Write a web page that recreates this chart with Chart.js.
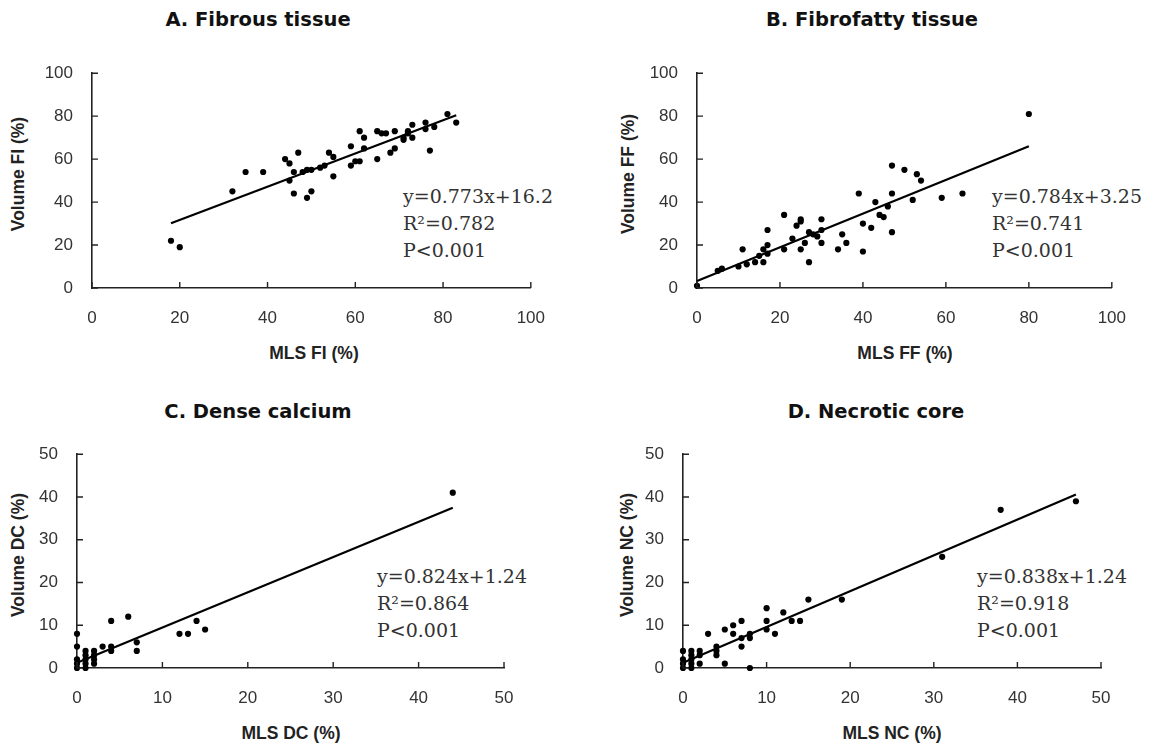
<!DOCTYPE html>
<html>
<head>
<meta charset="utf-8">
<script src="https://cdn.jsdelivr.net/npm/chart.js@4.4.1/dist/chart.umd.min.js"></script>
<style>
body { margin: 0; background: #fff; }
#wrap { position: relative; width: 1172px; height: 744px; overflow: hidden; background: #fff; }
canvas { position: absolute; }
.t { position: absolute; white-space: nowrap; transform: translate(-50%, -50%); }
.title { font: bold 19.5px "DejaVu Sans"; color: #111; }
.ax { font: bold 17.5px "Liberation Sans"; color: #222; }
.ay { transform: translate(-50%, -50%) rotate(-90deg); }
.eq { position: absolute; font: 19px "DejaVu Serif"; color: #333; line-height: 27px; white-space: nowrap; }
</style>
</head>
<body>
<div id="wrap">
  <div class="t title" style="left:258px;top:19px">A. Fibrous tissue</div>
  <div class="t title" style="left:872px;top:19px">B. Fibrofatty tissue</div>
  <div class="t title" style="left:258px;top:411px">C. Dense calcium</div>
  <div class="t title" style="left:876px;top:411px">D. Necrotic core</div>

  <div class="t ax" style="left:314px;top:353px">MLS FI (%)</div>
  <div class="t ax" style="left:905px;top:353px">MLS FF (%)</div>
  <div class="t ax" style="left:291px;top:733px">MLS DC (%)</div>
  <div class="t ax" style="left:892px;top:733px">MLS NC (%)</div>

  <div class="t ax ay" style="left:18px;top:174px">Volume FI (%)</div>
  <div class="t ax ay" style="left:628px;top:174px">Volume FF (%)</div>
  <div class="t ax ay" style="left:18px;top:555px">Volume DC (%)</div>
  <div class="t ax ay" style="left:627px;top:555px">Volume NC (%)</div>

  <div class="eq" style="left:403px;top:183px">y=0.773x+16.2<br>R²=0.782<br>P&lt;0.001</div>
  <div class="eq" style="left:992px;top:183px">y=0.784x+3.25<br>R²=0.741<br>P&lt;0.001</div>
  <div class="eq" style="left:377px;top:563px">y=0.824x+1.24<br>R²=0.864<br>P&lt;0.001</div>
  <div class="eq" style="left:977px;top:563px">y=0.838x+1.24<br>R²=0.918<br>P&lt;0.001</div>
</div>
<script>
// fibrous tissue (MLS vs volume)
var fiX = [18, 20, 32, 35, 39, 44, 45, 47, 46, 45, 46, 49, 50, 48, 49, 50, 52, 53, 54, 55, 55, 59, 59, 60, 61, 61, 62, 62, 65, 66, 67, 65, 68, 69, 69, 71, 71, 72, 72, 73, 73, 76, 76, 77, 78, 81, 83];
var fiY = [22, 19, 45, 54, 54, 60, 58, 63, 54, 50, 44, 42, 45, 54, 55, 55, 56, 57, 63, 61, 52, 66, 57, 59, 59, 73, 70, 65, 73, 72, 72, 60, 63, 65, 73, 69, 70, 73, 72, 70, 76, 77, 74, 64, 75, 81, 77];
var fiLineX = [18, 83];
var fiLineY = [30.1, 80.4];

// fibrofatty tissue
var ffX = [0, 5, 6, 10, 11, 12, 14, 15, 16, 16, 17, 17, 17, 21, 21, 23, 24, 25, 25, 25, 26, 27, 27, 28, 29, 30, 30, 30, 34, 35, 36, 39, 40, 40, 42, 43, 44, 45, 46, 47, 47, 47, 50, 52, 53, 54, 59, 64, 80];
var ffY = [1, 8, 9, 10, 18, 11, 12, 15, 12, 18, 27, 20, 16, 34, 18, 23, 29, 32, 31, 18, 21, 12, 26, 25, 24, 32, 27, 21, 18, 25, 21, 44, 30, 17, 28, 40, 34, 33, 38, 57, 44, 26, 55, 41, 53, 50, 42, 44, 81];
var ffLineX = [0, 80];
var ffLineY = [3.25, 66];

// dense calcium
var dcX = [0, 0, 0, 0, 0, 1, 1, 1, 1, 1, 2, 2, 2, 2, 3, 4, 4, 4, 6, 7, 7, 12, 13, 14, 15, 44];
var dcY = [0, 1, 2, 5, 8, 0, 1, 2, 3, 4, 1, 2, 3, 4, 5, 4, 5, 11, 12, 4, 6, 8, 8, 11, 9, 41];
var dcLineX = [0, 44];
var dcLineY = [1.24, 37.5];

// necrotic core
var ncX = [0, 0, 0, 0, 1, 1, 1, 1, 1, 2, 2, 2, 3, 4, 4, 4, 5, 5, 6, 6, 7, 7, 7, 8, 8, 8, 10, 10, 10, 11, 12, 13, 14, 15, 19, 31, 38, 47];
var ncY = [0, 1, 2, 4, 0, 1, 2, 3, 4, 1, 3, 4, 8, 3, 4, 5, 1, 9, 8, 10, 5, 7, 11, 0, 7, 8, 9, 11, 14, 8, 13, 11, 11, 16, 16, 26, 37, 39];
var ncLineX = [0, 47];
var ncLineY = [1.24, 40.6];

var ticks100 = [0, 20, 40, 60, 80, 100];
var ticks50 = [0, 10, 20, 30, 40, 50];

function toPoints(xs, ys) {
	return xs.map(function(x, i) { return {x: x, y: ys[i]}; });
}

// tick marks pointing into the plot, like the original
var innerTicks = {
	id: 'innerTicks',
	afterDraw: function(chart) {
		var ctx = chart.ctx;
		var a = chart.chartArea;
		var sx = chart.scales.x, sy = chart.scales.y;
		ctx.save();
		ctx.strokeStyle = '#222';
		ctx.lineWidth = 1.4;
		ctx.beginPath();
		sx.ticks.forEach(function(t) {
			var px = sx.getPixelForValue(t.value);
			ctx.moveTo(px, a.bottom);
			ctx.lineTo(px, a.bottom - 6);
		});
		sy.ticks.forEach(function(t) {
			var py = sy.getPixelForValue(t.value);
			ctx.moveTo(a.left, py);
			ctx.lineTo(a.left + 6, py);
		});
		ctx.stroke();
		ctx.restore();
	}
};

var padL = 75, padT = 15, padR = 30, padB = 55;

function ShowScatter(area, pts, line, max, tickList) {
	var c = document.createElement('canvas');
	var w = area[2] - area[0] + padL + padR;
	var h = area[3] - area[1] + padT + padB;
	c.width = w; c.height = h;
	c.style.left = (area[0] - padL) + 'px';
	c.style.top = (area[1] - padT) + 'px';
	c.style.width = w + 'px';
	c.style.height = h + 'px';
	document.getElementById('wrap').appendChild(c);

	var tickFont = {family: 'Liberation Sans', size: 17};
	var setTicks = function(scale) { scale.ticks = tickList.map(function(v) { return {value: v}; }); };

	new Chart(c, {
		type: 'scatter',
		data: {
			datasets: [
				{
					data: pts,
					pointRadius: 3.1,
					pointBackgroundColor: '#000',
					pointBorderWidth: 0,
					clip: false
				},
				{
					data: line,
					showLine: true,
					borderColor: '#000',
					borderWidth: 2.2,
					pointRadius: 0,
					fill: false,
					clip: false
				}
			]
		},
		options: {
			responsive: false,
			animation: false,
			events: [],
			layout: {autoPadding: false, padding: {left: 0, top: padT, right: padR, bottom: 0}},
			plugins: {legend: {display: false}, tooltip: {enabled: false}},
			scales: {
				x: {
					type: 'linear', min: 0, max: max,
					afterBuildTicks: setTicks,
					afterFit: function(s) { s.height = padB; },
					grid: {display: false, drawTicks: false},
					border: {display: true, color: '#222', width: 1.6},
					ticks: {padding: 20, color: '#333', font: tickFont, maxRotation: 0}
				},
				y: {
					type: 'linear', min: 0, max: max,
					afterBuildTicks: setTicks,
					afterFit: function(s) { s.width = padL; },
					grid: {display: false, drawTicks: false},
					border: {display: true, color: '#222', width: 1.6},
					ticks: {padding: 19, color: '#333', font: tickFont}
				}
			}
		},
		plugins: [innerTicks]
	});
}

ShowScatter([92, 59, 535, 288], toPoints(fiX, fiY), toPoints(fiLineX, fiLineY), 100, ticks100);
ShowScatter([697, 59, 1116, 288], toPoints(ffX, ffY), toPoints(ffLineX, ffLineY), 100, ticks100);
ShowScatter([77, 440, 504, 668], toPoints(dcX, dcY), toPoints(dcLineX, dcLineY), 50, ticks50);
ShowScatter([683, 440, 1101, 668], toPoints(ncX, ncY), toPoints(ncLineX, ncLineY), 50, ticks50);
</script>
</body>
</html>
